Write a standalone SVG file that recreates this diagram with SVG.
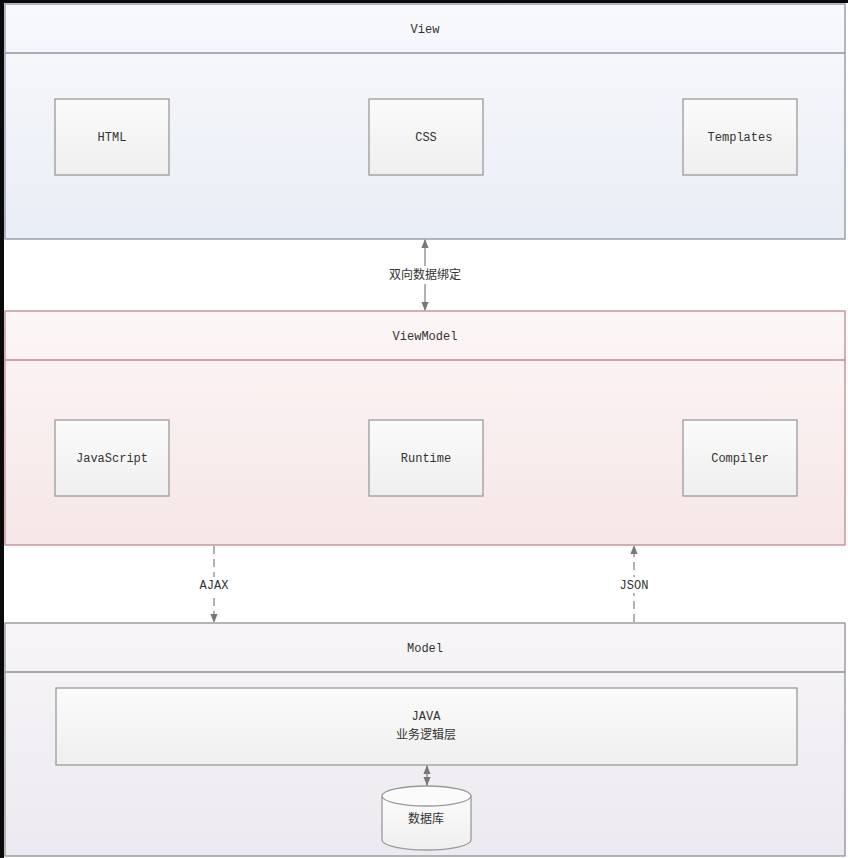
<svg xmlns="http://www.w3.org/2000/svg" width="848" height="858" viewBox="0 0 848 858">
<defs>
<linearGradient id="gView" x1="0" y1="0" x2="0" y2="1"><stop offset="0" stop-color="#f8f9fc"/><stop offset="1" stop-color="#e9edf5"/></linearGradient>
<linearGradient id="gVM" x1="0" y1="0" x2="0" y2="1"><stop offset="0" stop-color="#fcf6f6"/><stop offset="1" stop-color="#f6e6e7"/></linearGradient>
<linearGradient id="gM" x1="0" y1="0" x2="0" y2="1"><stop offset="0" stop-color="#f7f5f7"/><stop offset="1" stop-color="#eceaf0"/></linearGradient>
<linearGradient id="gBox" x1="0" y1="0" x2="0" y2="1"><stop offset="0" stop-color="#fbfbfb"/><stop offset="1" stop-color="#efefef"/></linearGradient>
<marker id="ah" viewBox="0 0 10 10" refX="9" refY="5" markerWidth="7" markerHeight="7" orient="auto-start-reverse"><path d="M0,1 L10,5 L0,9 z" fill="#777"/></marker>
</defs>
<style>
.view{fill:url(#gView);stroke:#8a93a6;stroke-width:1.3}
.vm{fill:url(#gVM);stroke:#c08890;stroke-width:1.3}
.mod{fill:url(#gM);stroke:#8f8f98;stroke-width:1.3}
.box{fill:url(#gBox);stroke:#9a9a9a;stroke-width:1.3}
.t{font-family:"Liberation Mono",monospace;font-size:12px;fill:#333;text-anchor:middle}
.c{font-family:"Noto Sans CJK SC",sans-serif;font-size:12px;fill:#333;text-anchor:middle}
.conn{stroke:#888;stroke-width:1.3;fill:none}
.dash{stroke-dasharray:8,5}
</style>
<rect x="0" y="0" width="848" height="858" fill="#ffffff"/>
<rect x="0" y="0" width="848" height="3" fill="#0a0a0a"/>
<rect x="0" y="0" width="4" height="858" fill="#0a0a0a"/>

<g id="view">
<rect class="view" x="5" y="4" width="840" height="235"/>
<line x1="5" y1="53" x2="845" y2="53" stroke="#8a93a6" stroke-width="1.3"/>
<text class="t" x="425" y="33">View</text>
</g>
<g id="html"><rect class="box" x="55" y="99" width="114" height="76"/><text class="t" x="112" y="141">HTML</text></g>
<g id="css"><rect class="box" x="369" y="99" width="114" height="76"/><text class="t" x="426" y="141">CSS</text></g>
<g id="templates"><rect class="box" x="683" y="99" width="114" height="76"/><text class="t" x="740" y="141">Templates</text></g>

<g id="viewmodel">
<rect class="vm" x="5" y="311" width="840" height="234"/>
<line x1="5" y1="360" x2="845" y2="360" stroke="#c08890" stroke-width="1.3"/>
<text class="t" x="425" y="340">ViewModel</text>
</g>
<g id="javascript"><rect class="box" x="55" y="420" width="114" height="76"/><text class="t" x="112" y="462">JavaScript</text></g>
<g id="runtime"><rect class="box" x="369" y="420" width="114" height="76"/><text class="t" x="426" y="462">Runtime</text></g>
<g id="compiler"><rect class="box" x="683" y="420" width="114" height="76"/><text class="t" x="740" y="462">Compiler</text></g>

<g id="model">
<rect class="mod" x="5" y="623" width="840" height="233"/>
<line x1="5" y1="672" x2="845" y2="672" stroke="#8f8f98" stroke-width="1.3"/>
<text class="t" x="425" y="652">Model</text>
</g>
<g id="java"><rect class="box" x="56" y="688" width="741" height="77"/><text class="t" x="426" y="720">JAVA</text><text class="c" x="426" y="739">业务逻辑层</text></g>
<g id="db">
<path class="box" d="M382,796 L382,840 A44.5,10 0 0 0 471,840 L471,796"/>
<ellipse cx="426.5" cy="796" rx="44.5" ry="10" fill="#fbfbfb" stroke="#9a9a9a" stroke-width="1.3"/>
<text class="c" x="426" y="823">数据库</text>
</g>

<g id="connectors">
<line class="conn" x1="425" y1="240" x2="425" y2="310" marker-start="url(#ah)" marker-end="url(#ah)"/>
<rect x="384" y="266" width="82" height="18" fill="#ffffff"/>
<text class="c" x="425" y="279">双向数据绑定</text>
<line class="conn dash" x1="214" y1="546" x2="214" y2="622" marker-end="url(#ah)"/>
<rect x="196" y="577" width="36" height="16" fill="#ffffff"/>
<text class="t" x="214" y="589">AJAX</text>
<line class="conn dash" x1="634" y1="622" x2="634" y2="546" marker-end="url(#ah)"/>
<rect x="616" y="577" width="36" height="16" fill="#ffffff"/>
<text class="t" x="634" y="589">JSON</text>
<line class="conn" x1="427" y1="766" x2="427" y2="785" marker-start="url(#ah)" marker-end="url(#ah)"/>
</g>
</svg>
